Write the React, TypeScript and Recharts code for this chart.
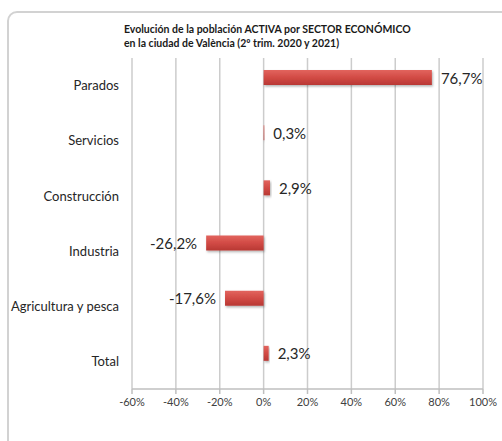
import { Bar, BarChart, CartesianGrid, LabelList, XAxis, YAxis } from "recharts";

const sectores = ["Parados", "Servicios", "Construcción", "Industria", "Agricultura y pesca", "Total"];
const variacion = [76.7, 0.3, 2.9, -26.2, -17.6, 2.3];
const ticksX = [-60, -40, -20, 0, 20, 40, 60, 80, 100];

const data = sectores.map((sector, i) => ({ sector, variacion: variacion[i] }));

const FONT = "Lato, 'Open Sans', sans-serif";

const fmt = (v: number) => `${v.toFixed(1).replace(".", ",")}%`;

const ValueLabel = (props: any) => {
  const { x, y, width, height, value } = props;
  if (value == null) return null;
  const neg = value < 0;
  const tx = neg ? x + width - 9 : x + width + 9;
  return (
    <text
      x={tx}
      y={y + height / 2}
      textAnchor={neg ? "end" : "start"}
      dominantBaseline="central"
      fill="#262626"
      fontSize={15}
      fontFamily={FONT}
    >
      {fmt(value)}
    </text>
  );
};

export default function App() {
  return (
    <div style={{ position: "absolute", left: 0, top: 0, width: 502, height: 441, overflow: "hidden", background: "#fff" }}>
      <div
        style={{
          position: "absolute",
          left: 7,
          top: 11,
          width: 520,
          height: 470,
          border: "2px solid #d2d2d2",
          borderRadius: 10,
        }}
      />
      <div
        style={{
          position: "absolute",
          left: 124,
          top: 22,
          fontFamily: FONT,
          fontWeight: 700,
          fontSize: 10.5,
          lineHeight: "14px",
          color: "#1a1a1a",
        }}
      >
        <div>Evolución de la población ACTIVA por SECTOR ECONÓMICO</div>
        <div>en la ciudad de València (2º trim. 2020 y 2021)</div>
      </div>
      <div style={{ position: "absolute", left: 0, top: 0 }}>
        <BarChart
          width={502}
          height={441}
          data={data}
          layout="vertical"
          margin={{ top: 58, right: 19, left: 0, bottom: 22 }}
          barSize={15}
          barGap={2}
        >
          <defs>
            <linearGradient id="rojo" x1="0" y1="0" x2="0" y2="1">
              <stop offset="0%" stopColor="#E2645E" />
              <stop offset="50%" stopColor="#D24B45" />
              <stop offset="100%" stopColor="#B83834" />
            </linearGradient>
            <filter id="sombra" x="-10%" y="-30%" width="130%" height="180%">
              <feDropShadow dx="1" dy="1.5" stdDeviation="1" floodColor="#000" floodOpacity="0.3" />
            </filter>
          </defs>
          <CartesianGrid horizontal={false} stroke="#cccccc" strokeWidth={1.5} />
          <XAxis
            type="number"
            domain={[-60, 100]}
            ticks={ticksX}
            tickFormatter={(v) => `${v}%`}
            axisLine={{ stroke: "#bfbfbf", strokeWidth: 1.5 }}
            tickLine={{ stroke: "#bfbfbf", strokeWidth: 1.5 }}
            tickSize={5}
            tickMargin={4}
            height={30}
            tick={{ fill: "#404040", fontSize: 11, fontFamily: FONT }}
            interval={0}
          />
          <YAxis
            type="category"
            dataKey="sector"
            width={132}
            axisLine={false}
            tickLine={false}
            tickSize={6}
            tickMargin={7}
            tick={{ fill: "#262626", fontSize: 13, fontFamily: FONT }}
            interval={0}
          />
          <Bar dataKey="variacion" fill="url(#rojo)" filter="url(#sombra)" isAnimationActive={false}>
            <LabelList dataKey="variacion" content={<ValueLabel />} />
          </Bar>
          <Bar dataKey="sinDatos" fill="none" isAnimationActive={false} />
        </BarChart>
      </div>
    </div>
  );
}
